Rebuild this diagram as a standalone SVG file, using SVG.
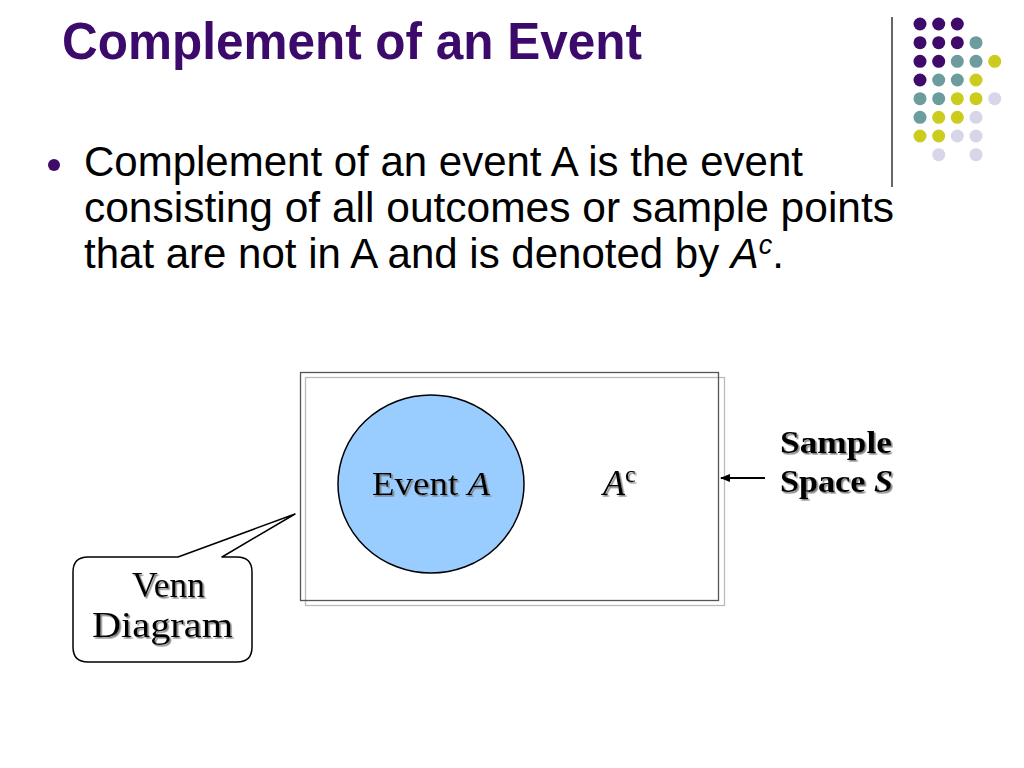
<svg xmlns="http://www.w3.org/2000/svg" width="1024" height="768" viewBox="0 0 1024 768">
<defs>
<style>
.title{font-family:"Liberation Sans",Arial,sans-serif;font-weight:bold;font-size:52px;fill:#3B0A6B}
.body{font-family:"Liberation Sans",Arial,sans-serif;font-size:42px;fill:#000}
.serif{font-family:"Liberation Serif","Times New Roman",serif;fill:#000}
.p{fill:#3F0A69}.t{fill:#6C9C9E}.y{fill:#CCCC1F}.l{fill:#D6D6E8}
</style>
<filter id="sh" x="-10%" y="-10%" width="130%" height="140%">
<feDropShadow dx="1.6" dy="1.6" stdDeviation="0.6" flood-color="#777" flood-opacity="0.9"/>
</filter>
<marker id="arr" viewBox="0 0 10 10" refX="9" refY="5" markerWidth="5" markerHeight="5" orient="auto">
<path d="M0,1 L10,5 L0,9 Z" fill="#000"/>
</marker>
</defs>
<rect width="1024" height="768" fill="#fff"/>

<g id="decor">
<line x1="892" y1="17" x2="892" y2="187" stroke="#333" stroke-width="1.5"/>
<g>
<circle class="p" cx="920" cy="24" r="6.5"/><circle class="p" cx="938.7" cy="24" r="6.5"/><circle class="p" cx="957.3" cy="24" r="6.5"/>
<circle class="p" cx="920" cy="42.7" r="6.5"/><circle class="p" cx="938.7" cy="42.7" r="6.5"/><circle class="p" cx="957.3" cy="42.7" r="6.5"/><circle class="t" cx="976" cy="42.7" r="6.5"/>
<circle class="p" cx="920" cy="61.3" r="6.5"/><circle class="p" cx="938.7" cy="61.3" r="6.5"/><circle class="t" cx="957.3" cy="61.3" r="6.5"/><circle class="t" cx="976" cy="61.3" r="6.5"/><circle class="y" cx="994.7" cy="61.3" r="6.5"/>
<circle class="p" cx="920" cy="80" r="6.5"/><circle class="t" cx="938.7" cy="80" r="6.5"/><circle class="t" cx="957.3" cy="80" r="6.5"/><circle class="y" cx="976" cy="80" r="6.5"/>
<circle class="t" cx="920" cy="98.7" r="6.5"/><circle class="t" cx="938.7" cy="98.7" r="6.5"/><circle class="y" cx="957.3" cy="98.7" r="6.5"/><circle class="y" cx="976" cy="98.7" r="6.5"/><circle class="l" cx="994.7" cy="98.7" r="6.5"/>
<circle class="t" cx="920" cy="117.3" r="6.5"/><circle class="y" cx="938.7" cy="117.3" r="6.5"/><circle class="y" cx="957.3" cy="117.3" r="6.5"/><circle class="l" cx="976" cy="117.3" r="6.5"/>
<circle class="y" cx="920" cy="136" r="6.5"/><circle class="y" cx="938.7" cy="136" r="6.5"/><circle class="l" cx="957.3" cy="136" r="6.5"/><circle class="l" cx="976" cy="136" r="6.5"/>
<circle class="l" cx="938.7" cy="154.7" r="6.5"/><circle class="l" cx="976" cy="154.7" r="6.5"/>
</g>
</g>

<g id="title">
<text class="title" x="62" y="59" textLength="580" lengthAdjust="spacingAndGlyphs">Complement of an Event</text>
</g>

<g id="bullet">
<circle cx="54" cy="165" r="6" fill="#3F0A69"/>
<text class="body" x="84" y="176" textLength="719" lengthAdjust="spacingAndGlyphs">Complement of an event A is the event</text>
<text class="body" x="84" y="222" textLength="810" lengthAdjust="spacingAndGlyphs">consisting of all outcomes or sample points</text>
<text class="body" x="84" y="268">that are not in A and is denoted by <tspan font-style="italic">A</tspan><tspan font-size="27" dy="-14" font-style="italic">c</tspan><tspan dy="14">.</tspan></text>
</g>

<g id="sample-space">
<rect x="305.5" y="377.5" width="419" height="228" fill="none" stroke="#BBB" stroke-width="1.3"/>
<rect x="300.5" y="372.5" width="418" height="228" fill="none" stroke="#555" stroke-width="1.3"/>
</g>

<g id="event-a">
<ellipse cx="431" cy="484" rx="93" ry="89" fill="#99CCFF" stroke="#000" stroke-width="1.5"/>
<text class="serif" x="372" y="495" font-size="33" textLength="118" lengthAdjust="spacingAndGlyphs" filter="url(#sh)">Event <tspan font-style="italic">A</tspan></text>
</g>

<g id="a-complement">
<text class="serif" x="603" y="495" font-size="36" filter="url(#sh)"><tspan font-style="italic">A</tspan><tspan font-size="24" dy="-13">c</tspan></text>
</g>

<g id="sample-label">
<text class="serif" x="780" y="453" font-size="32" font-weight="bold" textLength="112" lengthAdjust="spacingAndGlyphs" filter="url(#sh)">Sample</text>
<text class="serif" x="780" y="492" font-size="32" font-weight="bold" textLength="113" lengthAdjust="spacingAndGlyphs" filter="url(#sh)">Space <tspan font-style="italic">S</tspan></text>
</g>

<g id="venn-callout">
<path d="M88,557 L178,557 L295,514 L222,557 L237,557 Q252,557 252,572 L252,647 Q252,662 237,662 L88,662 Q73,662 73,647 L73,572 Q73,557 88,557 Z" fill="#fff" stroke="#000" stroke-width="1.5" stroke-linejoin="round"/>
<text class="serif" x="132" y="597" font-size="35" textLength="73" lengthAdjust="spacingAndGlyphs" filter="url(#sh)">Venn</text>
<text class="serif" x="92" y="637" font-size="35" textLength="141" lengthAdjust="spacingAndGlyphs" filter="url(#sh)">Diagram</text>
</g>

<g id="connectors">
<line x1="765" y1="478" x2="721" y2="478" stroke="#000" stroke-width="2" marker-end="url(#arr)"/>
</g>
</svg>
